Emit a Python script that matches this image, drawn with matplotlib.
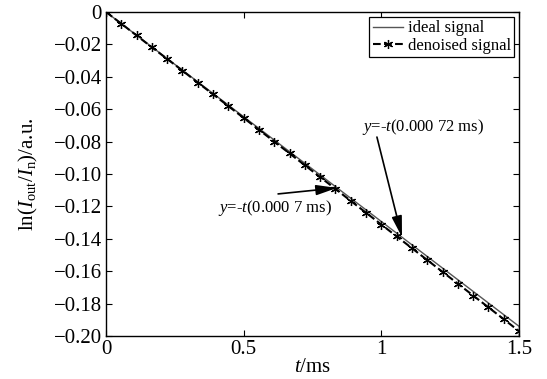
import numpy as np
import matplotlib
matplotlib.use('Agg')
from matplotlib import pyplot as plt

plt.rcParams['font.family'] = 'Liberation Serif'
plt.rcParams['mathtext.fontset'] = 'custom'
plt.rcParams['mathtext.rm'] = 'Liberation Serif'
plt.rcParams['mathtext.it'] = 'Liberation Serif:italic'

# ideal signal (straight line)
t_ideal = [0.0, 1.5]
y_ideal = [0.0, -0.1940]

# denoised signal
t_den = [0.0, 0.0556, 0.1111, 0.1667, 0.2222, 0.2778, 0.3333, 0.3889, 0.4444,
         0.5, 0.5556, 0.6111, 0.6667, 0.7222, 0.7778, 0.8333, 0.8889, 0.9444,
         1.0, 1.0556, 1.1111, 1.1667, 1.2222, 1.2778, 1.3333, 1.3889, 1.4444, 1.5]
y_den = [0.0, -0.0072, -0.0145, -0.0218, -0.0290, -0.0362, -0.0436, -0.0508,
         -0.0581, -0.0654, -0.0727, -0.0800, -0.0873, -0.0946, -0.1019, -0.1092,
         -0.1166, -0.1239, -0.1312, -0.1385, -0.1458, -0.1531, -0.1604, -0.1677,
         -0.1750, -0.1823, -0.1896, -0.1970]

xticks = [0, 0.5, 1, 1.5]
xticklabels = ['0', '0.5', '1', '1.5']
yticks = [0, -0.02, -0.04, -0.06, -0.08, -0.10, -0.12, -0.14, -0.16, -0.18, -0.20]
yticklabels = ['0'] + ['\u2212%.2f' % abs(v) for v in yticks[1:]]

fig = plt.figure(figsize=(5.47, 3.79), dpi=100)
ax = fig.add_axes([106/547, 1 - 336/379, 413/547, 324/379])

ax.plot(t_ideal, y_ideal, color='#555555', lw=1.0, label='ideal signal')
ax.plot(t_den, y_den, color='black', lw=1.5, ls='--', marker=(6, 2, 0),
        ms=6.5, mew=0.9, label='denoised signal')

ax.set_xlim(0, 1.5)
ax.set_ylim(-0.2, 0)
ax.set_xticks(xticks)
ax.set_xticklabels(xticklabels)
ax.set_yticks(yticks)
ax.set_yticklabels(yticklabels)
ax.tick_params(direction='in', top=True, right=True, labelsize=15, length=4, width=0.8, pad=3)
for s in ax.spines.values():
    s.set_linewidth(1.0)

ax.set_xlabel('$t$/ms', fontsize=15, labelpad=-1)
ax.set_ylabel(r'ln($I_{\rm out}/I_{\rm n}$)/a.u.', fontsize=15, labelpad=10)

arrow = dict(arrowstyle='-|>,head_length=0.9,head_width=0.22', color='black', lw=1.2,
             mutation_scale=14, shrinkA=0, shrinkB=0)
ax.text(0.407, -0.121, '$y$=-$t$(0.000 7 ms)', fontsize=12, ha='left', va='center')
ax.annotate('', xy=(0.839, -0.1086), xytext=(0.625, -0.1123), arrowprops=arrow)
ax.text(0.930, -0.0710, '$y$=-$t$(0.000 72 ms)', fontsize=12, ha='left', va='center')
ax.annotate('', xy=(1.075, -0.1389), xytext=(0.984, -0.0772), arrowprops=arrow)

leg = ax.legend(loc='upper right', fontsize=12, fancybox=False, edgecolor='black',
                framealpha=1, handlelength=1.8, borderpad=0.2, labelspacing=0.1,
                handletextpad=0.3, borderaxespad=0.3)
leg.get_frame().set_linewidth(0.9)

fig.savefig('out.png', dpi=100)
